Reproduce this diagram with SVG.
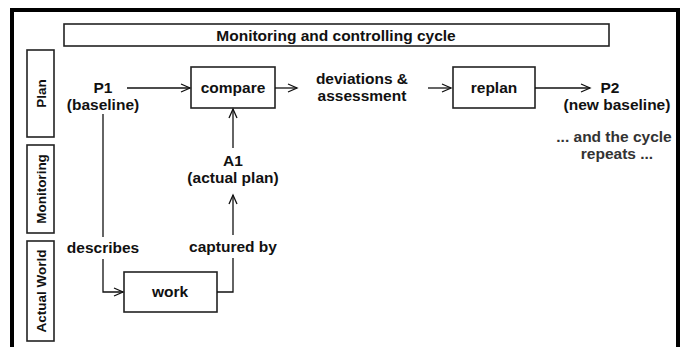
<svg xmlns="http://www.w3.org/2000/svg" width="684" height="347" viewBox="0 0 684 347">
<defs>
<marker id="ah" markerWidth="12" markerHeight="10" refX="10" refY="5" orient="auto" markerUnits="userSpaceOnUse">
<path d="M1,1 L10,5 L1,9" fill="none" stroke="#111" stroke-width="1.3"/>
</marker>
<style>
text{font-family:"Liberation Sans",Arial,sans-serif;font-weight:bold;fill:#111;text-anchor:middle}
.t{font-size:15.5px}
.s{font-size:13.5px}
.box{fill:#fff;stroke:#222;stroke-width:1.6}
.ln{fill:none;stroke:#111;stroke-width:1.3}
.g{fill:#333}
</style>
</defs>
<rect x="0" y="0" width="684" height="347" fill="#fff"/>
<rect x="12" y="10" width="666" height="360" fill="none" stroke="#000" stroke-width="4"/>
<g id="title"><rect class="box" x="64" y="24" width="545" height="22"/><text class="t" x="336" y="40.5">Monitoring and controlling cycle</text></g>
<g id="lane-plan"><rect class="box" x="27" y="50" width="27" height="87"/><text class="s" transform="translate(45.5,93.5) rotate(-90)">Plan</text></g>
<g id="lane-monitoring"><rect class="box" x="27" y="145" width="27" height="88"/><text class="s" transform="translate(45.5,189) rotate(-90)">Monitoring</text></g>
<g id="lane-world"><rect class="box" x="27" y="241" width="27" height="100"/><text class="s" transform="translate(45.5,291) rotate(-90)">Actual World</text></g>
<g id="p1"><text class="t" x="103" y="93">P1</text><text class="t" x="103" y="109.5">(baseline)</text></g>
<g id="compare"><rect class="box" x="191" y="67" width="84" height="41"/><text class="t" x="233" y="93">compare</text></g>
<g id="deviations"><text class="t" x="362" y="84">deviations &amp;</text><text class="t" x="362" y="101">assessment</text></g>
<g id="replan"><rect class="box" x="453" y="67" width="82" height="41"/><text class="t" x="494" y="93">replan</text></g>
<g id="p2"><text class="t" x="610" y="93">P2</text><text class="t" x="617" y="109.5">(new baseline)</text></g>
<g id="repeat"><text class="t g" x="614" y="142">... and the cycle</text><text class="t g" x="617" y="159">repeats ...</text></g>
<g id="a1"><text class="t" x="233" y="166">A1</text><text class="t" x="233" y="183">(actual plan)</text></g>
<g id="work"><rect class="box" x="124" y="272" width="93" height="40"/><text class="t" x="170" y="297">work</text></g>
<g id="describes"><text class="t" x="103" y="253">describes</text></g>
<g id="captured"><text class="t" x="233" y="252">captured by</text></g>
<g id="connectors">
<line class="ln" x1="127" y1="88" x2="190" y2="88" marker-end="url(#ah)"/>
<line class="ln" x1="275" y1="88" x2="297" y2="88" marker-end="url(#ah)"/>
<line class="ln" x1="428" y1="88" x2="451" y2="88" marker-end="url(#ah)"/>
<line class="ln" x1="535" y1="88" x2="590" y2="88" marker-end="url(#ah)"/>
<line class="ln" x1="103" y1="114" x2="103" y2="237"/>
<polyline class="ln" points="103,259 103,292 123,292" marker-end="url(#ah)"/>
<polyline class="ln" points="217,292 233,292 233,258"/>
<line class="ln" x1="233" y1="235" x2="233" y2="195" marker-end="url(#ah)"/>
<line class="ln" x1="233" y1="148" x2="233" y2="109" marker-end="url(#ah)"/>
</g>
</svg>
